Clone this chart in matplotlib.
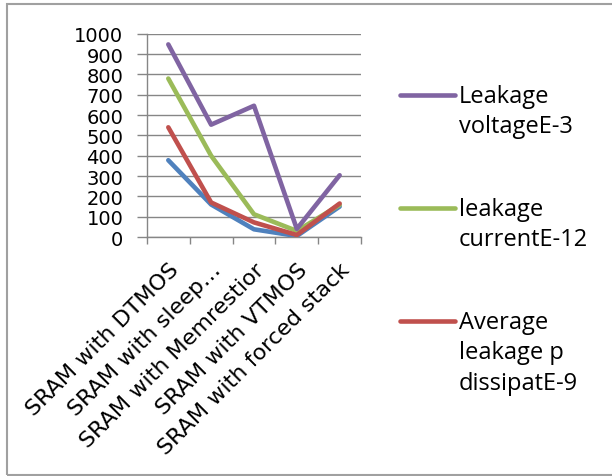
import matplotlib
matplotlib.use("Agg")
import matplotlib.pyplot as plt
import matplotlib.transforms as mtransforms
from matplotlib.lines import Line2D
from matplotlib.patches import Rectangle

categories = [
    "SRAM with DTMOS",
    "SRAM with sleep\u2026",
    "SRAM with Memrestior",
    "SRAM with VTMOS",
    "SRAM with forced stack",
]

# series values (scaled units as in the legend labels)
blue_series = [378, 160, 38, 5, 150]
green_series = [780, 400, 112, 30, 158]
red_series = [540, 170, 72, 10, 165]
purple_series = [948, 553, 646, 40, 304]

legend_labels = [
    "Leakage\nvoltageE-3",
    "leakage\ncurrentE-12",
    "Average\nleakage p\ndissipatE-9",
]

yticks = list(range(0, 1001, 100))

BLUE = "#4F81BD"
RED = "#C0504D"
GREEN = "#9BBB59"
PURPLE = "#8064A2"
GRID = "#868686"

plt.rcParams["font.family"] = ["DejaVu Sans"]

fig = plt.figure(figsize=(6.12, 4.77), dpi=100)
ax = fig.add_axes([0.240, 0.501, 0.350, 0.426])

x = list(range(len(categories)))
lw = 3.3
ax.plot(x, blue_series, color=BLUE, lw=lw, solid_capstyle="round", zorder=3)
ax.plot(x, green_series, color=GREEN, lw=lw, solid_capstyle="round", zorder=4)
ax.plot(x, red_series, color=RED, lw=lw, solid_capstyle="round", zorder=5)
ax.plot(x, purple_series, color=PURPLE, lw=lw, solid_capstyle="round", zorder=6)

ax.set_xlim(-0.5, len(categories) - 0.5)
ax.set_ylim(0, 1000)
ax.set_yticks(yticks)
ax.set_yticklabels([str(v) for v in yticks], fontsize=14)
ax.yaxis.grid(True, color=GRID, lw=1.0)
ax.set_axisbelow(True)

# x ticks sit on category boundaries, labels on category centres
ax.set_xticks([i - 0.5 for i in range(len(categories) + 1)])
ax.set_xticklabels([])
ax.set_xticks(x, minor=True)
ax.set_xticklabels(categories, minor=True, rotation=45, ha="right", va="top",
                   rotation_mode="anchor", fontsize=16)
shift = mtransforms.ScaledTranslation(-3 / 100, 0, fig.dpi_scale_trans)
for lbl in ax.get_xticklabels(minor=True):
    lbl.set_transform(lbl.get_transform() + shift)
ax.tick_params(axis="x", which="minor", length=0, pad=16)
ax.tick_params(axis="x", which="major", length=5, color=GRID, width=1.0)
ax.tick_params(axis="y", length=7, color=GRID, width=1.0, pad=10)

for s in ["top", "right"]:
    ax.spines[s].set_visible(False)
for s in ["left", "bottom"]:
    ax.spines[s].set_color(GRID)
    ax.spines[s].set_linewidth(1.0)

# legend drawn on the right of the plot
legend_colors = [PURPLE, GREEN, RED]
legend_y = [1 - 96 / 477, 1 - 209 / 477, 1 - 322 / 477]
for color, label, yy in zip(legend_colors, legend_labels, legend_y):
    fig.add_artist(Line2D([400 / 612, 455 / 612], [yy, yy], color=color, lw=3.3,
                          solid_capstyle="round", transform=fig.transFigure))
    fig.text(459 / 612, yy + 11 / 477, label, fontsize=17, va="top", ha="left",
             linespacing=1.35, family=["Open Sans", "DejaVu Sans"])

# chart area border (open on the right)
fig.add_artist(Rectangle((6.5 / 612, 1 / 477), 1.2, 471 / 477, fill=False,
                         edgecolor="#A0A0A0", lw=1.5, transform=fig.transFigure))

fig.savefig("out.png", dpi=100)
